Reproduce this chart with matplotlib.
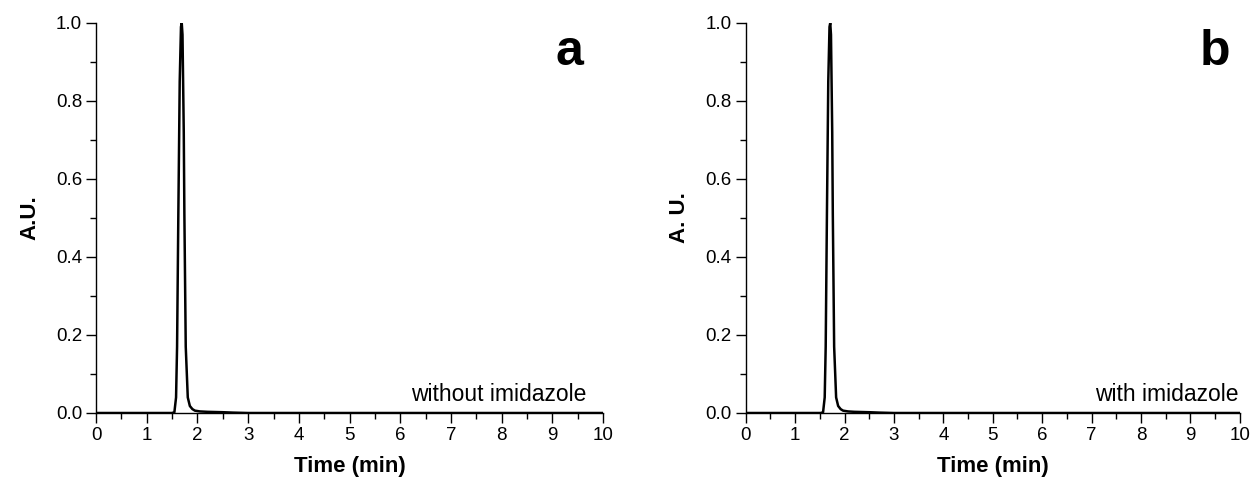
import matplotlib
matplotlib.use('Agg')
import matplotlib.pyplot as plt
from matplotlib.ticker import MultipleLocator, FormatStrFormatter

plt.rcParams['font.family'] = ['Liberation Sans', 'DejaVu Sans']

# Chromatogram, without imidazole (panel a)
time_a = [0.0, 1.50, 1.545, 1.578, 1.598, 1.623, 1.65, 1.675, 1.69, 1.705, 1.73,
          1.742, 1.769, 1.809, 1.85, 1.90, 1.95, 2.05, 2.20, 2.50, 2.70, 3.00, 10.0]
signal_a = [0.0, 0.0, 0.002, 0.04, 0.17, 0.51, 0.85, 0.99, 1.0, 0.97, 0.72,
            0.51, 0.17, 0.04, 0.018, 0.010, 0.006, 0.004, 0.003, 0.002, 0.001, 0.0, 0.0]

# Chromatogram, with imidazole (panel b)
time_b = [0.0, 1.52, 1.565, 1.598, 1.618, 1.643, 1.67, 1.695, 1.71, 1.725, 1.75,
          1.762, 1.789, 1.829, 1.87, 1.92, 1.97, 2.07, 2.20, 2.50, 2.70, 3.00, 10.0]
signal_b = [0.0, 0.0, 0.002, 0.04, 0.17, 0.51, 0.85, 0.99, 1.0, 0.97, 0.72,
            0.51, 0.17, 0.04, 0.018, 0.010, 0.006, 0.004, 0.003, 0.002, 0.001, 0.0, 0.0]

panels = [
    dict(t=time_a, s=signal_a, ylabel='A.U.', letter='a', note='without imidazole',
         rect=[0.0766, 0.1396, 0.4043, 0.8125], note_x=0.968, letter_x=0.933),
    dict(t=time_b, s=signal_b, ylabel='A. U.', letter='b', note='with imidazole',
         rect=[0.5947, 0.1396, 0.3940, 0.8125], note_x=0.997, letter_x=0.95),
]

fig = plt.figure(figsize=(12.54, 4.8), dpi=100)

for p in panels:
    ax = fig.add_axes(p['rect'])
    ax.plot(p['t'], p['s'], color='black', lw=1.8)
    ax.set_xlim(0, 10)
    ax.set_ylim(0, 1.0)
    ax.spines['top'].set_visible(False)
    ax.spines['right'].set_visible(False)
    for sp in ('left', 'bottom'):
        ax.spines[sp].set_linewidth(1.0)
    ax.xaxis.set_major_locator(MultipleLocator(1))
    ax.xaxis.set_minor_locator(MultipleLocator(0.5))
    ax.yaxis.set_major_locator(MultipleLocator(0.2))
    ax.yaxis.set_minor_locator(MultipleLocator(0.1))
    ax.yaxis.set_major_formatter(FormatStrFormatter('%.1f'))
    ax.tick_params(which='major', direction='out', length=7, width=1.0, labelsize=13.5, pad=3)
    ax.tick_params(which='minor', direction='out', length=4, width=1.0)
    ax.set_xlabel('Time (min)', fontsize=16, fontweight='bold', labelpad=9)
    ax.set_ylabel(p['ylabel'], fontsize=16, fontweight='bold', labelpad=11)
    ax.text(p['letter_x'], 0.892, p['letter'], transform=ax.transAxes, fontsize=36,
            fontweight='bold', ha='center', va='baseline')
    ax.text(p['note_x'], 0.03, p['note'], transform=ax.transAxes, fontsize=16.5,
            ha='right', va='baseline')

fig.savefig('out.png', dpi=100)
